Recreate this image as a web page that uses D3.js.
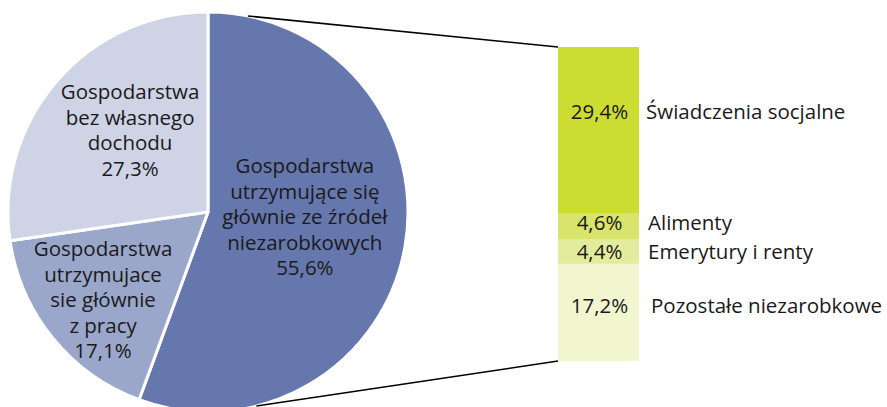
<!DOCTYPE html>
<html>
<head>
<meta charset="utf-8">
<script src="https://cdn.jsdelivr.net/npm/d3@7"></script>
<style>
  body { margin: 0; background: #fff; }
  text { font-family: "Open Sans", sans-serif; fill: #1a1a1a; }
</style>
</head>
<body>
<div id="chart"></div>
<script>
// pie slices (clockwise from 12 o'clock)
const pieLabels = [
  ["Gospodarstwa", "utrzymujące się", "głównie ze źródeł", "niezarobkowych"],
  ["Gospodarstwa", "utrzymujace", "sie głównie", "z pracy"],
  ["Gospodarstwa", "bez własnego", "dochodu"]
];
const pieValues = [55.6, 17.1, 27.3];
const pieColors = ["#6677ad", "#9ba6cb", "#ced3e6"];

// breakdown of the first slice (top to bottom)
const barLabels = ["Świadczenia socjalne", "Alimenty", "Emerytury i renty", "Pozostałe niezarobkowe"];
const barValues = [29.4, 4.6, 4.4, 17.2];
const barColors = ["#cddc33", "#d8e46b", "#e3ec9c", "#f1f6cf"];

const fmt = v => d3.format(".1f")(v).replace(".", ",") + "%";

const width = 887, height = 407;
const svg = d3.select("#chart").append("svg")
    .attr("width", width)
    .attr("height", height);

const fontSize = 20.5;

// ---- pie ----
const cx = 208, cy = 212, radius = 200;
const g = svg.append("g").attr("transform", `translate(${cx},${cy})`);

const pie = d3.pie().sort(null).value(d => d)(pieValues);
const arc = d3.arc().innerRadius(0).outerRadius(radius);

g.selectAll("path.slice")
    .data(pie)
    .join("path")
    .attr("class", "slice")
    .attr("d", arc)
    .attr("fill", (d, i) => pieColors[i])
    .attr("stroke", "#fff")
    .attr("stroke-width", 3)
    .attr("stroke-linejoin", "round");

// label placement per slice: distance from centre and bearing (deg, clockwise from top)
const labelRadius = [97, 137, 113];
const labelBearing = [93, 230, 316.4];
const lineH = 25.5;
pie.forEach((d, i) => {
    const a = labelBearing[i] * Math.PI / 180;
    const lx = labelRadius[i] * Math.sin(a);
    const ly = -labelRadius[i] * Math.cos(a);
    const lines = pieLabels[i].concat([fmt(pieValues[i])]);
    const t = g.append("text")
        .attr("text-anchor", "middle")
        .attr("font-size", fontSize);
    lines.forEach((s, k) => {
        t.append("tspan")
            .attr("x", lx)
            .attr("y", ly + (k - (lines.length - 1) / 2) * lineH)
            .attr("dy", "0.35em")
            .text(s);
    });
});

// ---- stacked bar ----
const barX = 558, barW = 81, barTop = 47, barBottom = 361;
const total = d3.sum(barValues);
const yScale = d3.scaleLinear().domain([0, total]).range([barTop, barBottom]);
const stacked = [];
barValues.reduce((acc, v, i) => { stacked.push({ i, y0: acc, y1: acc + v, v }); return acc + v; }, 0);

svg.selectAll("rect.seg")
    .data(stacked)
    .join("rect")
    .attr("class", "seg")
    .attr("x", barX)
    .attr("width", barW)
    .attr("y", d => yScale(d.y0))
    .attr("height", d => yScale(d.y1) - yScale(d.y0))
    .attr("fill", d => barColors[d.i]);

// vertical nudge of the bar labels relative to segment centre
const labelShift = [-18, -3, 0, -7];
const nameX = [646, 648, 648, 651];

svg.selectAll("text.val")
    .data(stacked)
    .join("text")
    .attr("class", "val")
    .attr("x", barX + barW / 2 + 1)
    .attr("y", d => (yScale(d.y0) + yScale(d.y1)) / 2 + labelShift[d.i])
    .attr("dy", "0.35em")
    .attr("text-anchor", "middle")
    .attr("font-size", fontSize)
    .text(d => fmt(d.v));

svg.selectAll("text.name")
    .data(stacked)
    .join("text")
    .attr("class", "name")
    .attr("x", d => nameX[d.i])
    .attr("y", d => (yScale(d.y0) + yScale(d.y1)) / 2 + labelShift[d.i])
    .attr("dy", "0.35em")
    .attr("font-size", fontSize)
    .text(d => barLabels[d.i]);

// ---- connector lines ----
const topAngle = 11.5 * Math.PI / 180, botAngle = 166 * Math.PI / 180;
const onCircle = a => [cx + radius * Math.sin(a), cy - radius * Math.cos(a)];
[[onCircle(topAngle), [barX, barTop]], [onCircle(botAngle), [barX, barBottom]]].forEach(p => {
    svg.append("path")
        .attr("d", d3.line()(p))
        .attr("stroke", "#000")
        .attr("stroke-width", 1.5)
        .attr("fill", "none");
});
</script>
</body>
</html>
